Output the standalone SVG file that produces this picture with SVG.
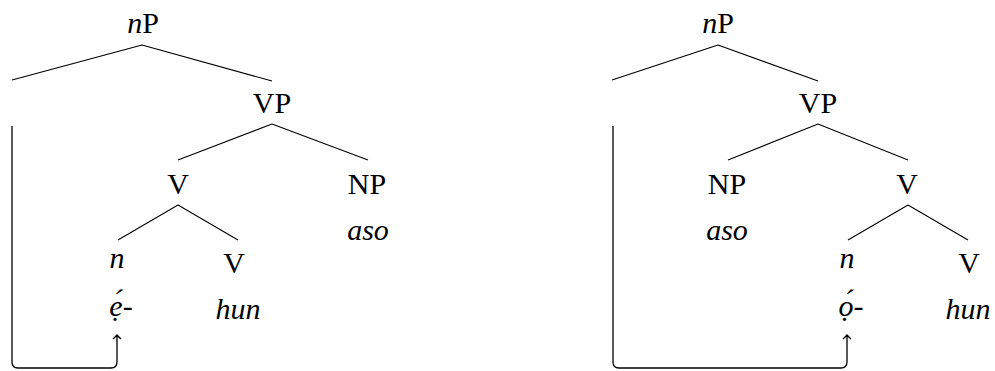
<svg xmlns="http://www.w3.org/2000/svg" width="995" height="371" viewBox="0 0 995 371">
<style>
.e{stroke:#000;stroke-width:1.1;fill:none}
.mv{stroke:#000;stroke-width:1.3;fill:none}
</style>
<defs>
<marker id="ah" viewBox="-6 -6 8 12" markerWidth="8" markerHeight="12" refX="0" refY="0" orient="auto" markerUnits="userSpaceOnUse">
<path d="M -4 -4 Q -1.2 -1 0 0 Q -1.2 1 -4 4" stroke="#000" stroke-width="1.2" fill="none"/>
</marker>
</defs>
<g id="connectors">
<path class="e" d="M142 45 L12 80 M142 45 L272 81"/>
<path class="e" d="M272 124 L178 160 M272 124 L368 160"/>
<path class="e" d="M178 205 L118 240 M178 205 L238 240"/>
<path class="e" d="M718 45 L612 80 M718 45 L818 81"/>
<path class="e" d="M818 124 L728 160 M818 124 L908 160"/>
<path class="e" d="M908 205 L848 240 M908 205 L968 240"/>
<path class="mv" d="M12 126 V362 Q12 368 18 368 H111 Q117 368 117 362 V335" marker-end="url(#ah)"/>
<path class="mv" d="M613 126 V362 Q613 368 619 368 H841 Q847 368 847 362 V335" marker-end="url(#ah)"/>
</g>
<g text-anchor="middle" fill="#000">
<g id="tree1-nP"><text x="143" y="33" font-family="Liberation Serif" font-size="30"><tspan font-style="italic">n</tspan>P</text></g>
<g id="tree1-VP"><text x="272" y="113" font-family="Liberation Serif" font-size="30">VP</text></g>
<g id="tree1-V"><text x="178" y="194" font-family="Liberation Serif" font-size="30">V</text></g>
<g id="tree1-NP"><text x="367" y="194" font-family="Liberation Serif" font-size="30">NP</text><text x="368" y="240" font-family="Liberation Serif" font-size="30" font-style="italic">aso</text></g>
<g id="tree1-n"><text x="117" y="268" font-family="Liberation Serif" font-size="30" font-style="italic">n</text><text x="121" y="316" font-family="Liberation Serif" font-size="30" font-style="italic">&#x1EB9;&#x301;-</text></g>
<g id="tree1-V2"><text x="234" y="273" font-family="Liberation Serif" font-size="30">V</text><text x="238" y="319" font-family="Liberation Serif" font-size="30" font-style="italic">hun</text></g>
<g id="tree2-nP"><text x="718" y="33" font-family="Liberation Serif" font-size="30"><tspan font-style="italic">n</tspan>P</text></g>
<g id="tree2-VP"><text x="818" y="113" font-family="Liberation Serif" font-size="30">VP</text></g>
<g id="tree2-NP"><text x="727" y="194" font-family="Liberation Serif" font-size="30">NP</text><text x="727" y="240" font-family="Liberation Serif" font-size="30" font-style="italic">aso</text></g>
<g id="tree2-V"><text x="907" y="194" font-family="Liberation Serif" font-size="30">V</text></g>
<g id="tree2-n"><text x="847" y="268" font-family="Liberation Serif" font-size="30" font-style="italic">n</text><text x="851" y="316" font-family="Liberation Serif" font-size="30" font-style="italic">&#x1ECD;&#x301;-</text></g>
<g id="tree2-V2"><text x="969" y="273" font-family="Liberation Serif" font-size="30">V</text><text x="968" y="319" font-family="Liberation Serif" font-size="30" font-style="italic">hun</text></g>
</g>
</svg>
